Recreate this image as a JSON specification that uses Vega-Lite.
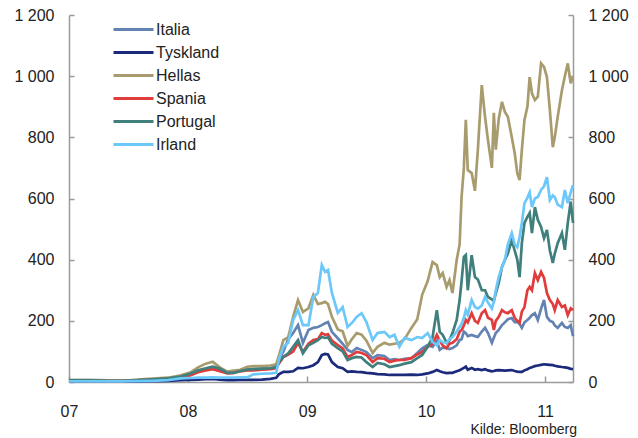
{
"$schema":"https://vega.github.io/schema/vega-lite/v6.json",
"width":504,"height":367,
"autosize":{"type":"none"},
"padding":{"left":69,"top":15,"right":65,"bottom":56},
"data":{"values":[
{"c":"Italia","d":"2007-01-01","v":6},{"c":"Italia","d":"2007-03-01","v":6},{"c":"Italia","d":"2007-05-01","v":5},{"c":"Italia","d":"2007-06-15","v":4},{"c":"Italia","d":"2007-08-01","v":6},{"c":"Italia","d":"2007-09-15","v":9},{"c":"Italia","d":"2007-11-01","v":12},{"c":"Italia","d":"2007-12-10","v":18},
{"c":"Italia","d":"2008-01-10","v":25},{"c":"Italia","d":"2008-02-01","v":35},{"c":"Italia","d":"2008-02-25","v":42},{"c":"Italia","d":"2008-03-17","v":48},{"c":"Italia","d":"2008-04-08","v":40},{"c":"Italia","d":"2008-05-01","v":30},{"c":"Italia","d":"2008-05-20","v":32},{"c":"Italia","d":"2008-06-10","v":38},{"c":"Italia","d":"2008-07-01","v":42},{"c":"Italia","d":"2008-07-20","v":42},{"c":"Italia","d":"2008-08-15","v":43},{"c":"Italia","d":"2008-09-10","v":45},{"c":"Italia","d":"2008-09-28","v":50},{"c":"Italia","d":"2008-10-06","v":70},{"c":"Italia","d":"2008-10-20","v":100},{"c":"Italia","d":"2008-11-04","v":140},{"c":"Italia","d":"2008-11-19","v":160},{"c":"Italia","d":"2008-12-04","v":186},{"c":"Italia","d":"2008-12-19","v":128},
{"c":"Italia","d":"2009-01-05","v":170},{"c":"Italia","d":"2009-01-20","v":177},{"c":"Italia","d":"2009-02-03","v":180},{"c":"Italia","d":"2009-02-15","v":186},{"c":"Italia","d":"2009-02-25","v":192},{"c":"Italia","d":"2009-03-06","v":196},{"c":"Italia","d":"2009-03-18","v":164},{"c":"Italia","d":"2009-04-05","v":143},{"c":"Italia","d":"2009-04-20","v":125},{"c":"Italia","d":"2009-05-05","v":105},{"c":"Italia","d":"2009-05-18","v":98},{"c":"Italia","d":"2009-06-02","v":111},{"c":"Italia","d":"2009-06-17","v":105},{"c":"Italia","d":"2009-07-02","v":98},{"c":"Italia","d":"2009-07-21","v":78},{"c":"Italia","d":"2009-08-05","v":88},{"c":"Italia","d":"2009-08-26","v":85},{"c":"Italia","d":"2009-09-11","v":72},{"c":"Italia","d":"2009-09-26","v":75},{"c":"Italia","d":"2009-10-11","v":72},{"c":"Italia","d":"2009-10-27","v":76},{"c":"Italia","d":"2009-11-17","v":78},{"c":"Italia","d":"2009-12-05","v":95},{"c":"Italia","d":"2009-12-20","v":110},
{"c":"Italia","d":"2010-01-06","v":121},{"c":"Italia","d":"2010-01-21","v":115},{"c":"Italia","d":"2010-02-03","v":135},{"c":"Italia","d":"2010-02-12","v":105},{"c":"Italia","d":"2010-02-21","v":112},{"c":"Italia","d":"2010-03-05","v":111},{"c":"Italia","d":"2010-03-14","v":108},{"c":"Italia","d":"2010-03-23","v":111},{"c":"Italia","d":"2010-04-05","v":120},{"c":"Italia","d":"2010-04-14","v":137},{"c":"Italia","d":"2010-04-20","v":140},{"c":"Italia","d":"2010-04-27","v":165},{"c":"Italia","d":"2010-05-03","v":160},{"c":"Italia","d":"2010-05-09","v":150},{"c":"Italia","d":"2010-05-21","v":154},{"c":"Italia","d":"2010-05-31","v":150},{"c":"Italia","d":"2010-06-09","v":147},{"c":"Italia","d":"2010-06-21","v":165},{"c":"Italia","d":"2010-07-01","v":177},{"c":"Italia","d":"2010-07-10","v":160},{"c":"Italia","d":"2010-07-22","v":128},{"c":"Italia","d":"2010-07-28","v":145},{"c":"Italia","d":"2010-08-03","v":160},{"c":"Italia","d":"2010-08-12","v":170},{"c":"Italia","d":"2010-08-22","v":186},{"c":"Italia","d":"2010-08-31","v":195},{"c":"Italia","d":"2010-09-09","v":205},{"c":"Italia","d":"2010-09-21","v":209},{"c":"Italia","d":"2010-09-30","v":196},{"c":"Italia","d":"2010-10-08","v":196},{"c":"Italia","d":"2010-10-15","v":190},{"c":"Italia","d":"2010-10-22","v":177},{"c":"Italia","d":"2010-10-30","v":195},{"c":"Italia","d":"2010-11-08","v":203},{"c":"Italia","d":"2010-11-15","v":210},{"c":"Italia","d":"2010-11-22","v":219},{"c":"Italia","d":"2010-12-01","v":225},{"c":"Italia","d":"2010-12-10","v":203},{"c":"Italia","d":"2010-12-20","v":240},{"c":"Italia","d":"2010-12-29","v":268},
{"c":"Italia","d":"2011-01-07","v":213},{"c":"Italia","d":"2011-01-16","v":200},{"c":"Italia","d":"2011-01-25","v":196},{"c":"Italia","d":"2011-01-31","v":185},{"c":"Italia","d":"2011-02-09","v":177},{"c":"Italia","d":"2011-02-22","v":193},{"c":"Italia","d":"2011-03-03","v":180},{"c":"Italia","d":"2011-03-12","v":177},{"c":"Italia","d":"2011-03-21","v":186},{"c":"Italia","d":"2011-03-28","v":150},

{"c":"Tyskland","d":"2007-01-01","v":2},{"c":"Tyskland","d":"2007-03-01","v":2},{"c":"Tyskland","d":"2007-05-01","v":2},{"c":"Tyskland","d":"2007-06-15","v":1},{"c":"Tyskland","d":"2007-08-01","v":2},{"c":"Tyskland","d":"2007-09-15","v":3},{"c":"Tyskland","d":"2007-11-01","v":4},{"c":"Tyskland","d":"2007-12-10","v":6},
{"c":"Tyskland","d":"2008-01-10","v":7},{"c":"Tyskland","d":"2008-02-01","v":8},{"c":"Tyskland","d":"2008-02-25","v":9},{"c":"Tyskland","d":"2008-03-17","v":10},{"c":"Tyskland","d":"2008-04-08","v":8},{"c":"Tyskland","d":"2008-05-01","v":6},{"c":"Tyskland","d":"2008-05-20","v":6},{"c":"Tyskland","d":"2008-06-10","v":7},{"c":"Tyskland","d":"2008-07-01","v":7},{"c":"Tyskland","d":"2008-07-20","v":7},{"c":"Tyskland","d":"2008-08-15","v":8},{"c":"Tyskland","d":"2008-09-10","v":10},{"c":"Tyskland","d":"2008-09-28","v":14},{"c":"Tyskland","d":"2008-10-06","v":25},{"c":"Tyskland","d":"2008-10-20","v":33},{"c":"Tyskland","d":"2008-11-04","v":33},{"c":"Tyskland","d":"2008-11-19","v":35},{"c":"Tyskland","d":"2008-12-04","v":46},{"c":"Tyskland","d":"2008-12-19","v":45},
{"c":"Tyskland","d":"2009-01-05","v":49},{"c":"Tyskland","d":"2009-01-20","v":55},{"c":"Tyskland","d":"2009-02-03","v":65},{"c":"Tyskland","d":"2009-02-15","v":88},{"c":"Tyskland","d":"2009-02-25","v":92},{"c":"Tyskland","d":"2009-03-06","v":90},{"c":"Tyskland","d":"2009-03-18","v":65},{"c":"Tyskland","d":"2009-04-05","v":49},{"c":"Tyskland","d":"2009-04-20","v":45},{"c":"Tyskland","d":"2009-05-05","v":33},{"c":"Tyskland","d":"2009-05-18","v":35},{"c":"Tyskland","d":"2009-06-02","v":33},{"c":"Tyskland","d":"2009-06-17","v":32},{"c":"Tyskland","d":"2009-07-02","v":30},{"c":"Tyskland","d":"2009-07-21","v":28},{"c":"Tyskland","d":"2009-08-05","v":26},{"c":"Tyskland","d":"2009-08-26","v":25},{"c":"Tyskland","d":"2009-09-11","v":23},{"c":"Tyskland","d":"2009-09-26","v":23},{"c":"Tyskland","d":"2009-10-11","v":23},{"c":"Tyskland","d":"2009-10-27","v":23},{"c":"Tyskland","d":"2009-11-17","v":24},{"c":"Tyskland","d":"2009-12-05","v":23},{"c":"Tyskland","d":"2009-12-20","v":25},
{"c":"Tyskland","d":"2010-01-06","v":28},{"c":"Tyskland","d":"2010-01-21","v":33},{"c":"Tyskland","d":"2010-02-03","v":39},{"c":"Tyskland","d":"2010-02-12","v":35},{"c":"Tyskland","d":"2010-02-21","v":32},{"c":"Tyskland","d":"2010-03-05","v":29},{"c":"Tyskland","d":"2010-03-14","v":30},{"c":"Tyskland","d":"2010-03-23","v":30},{"c":"Tyskland","d":"2010-04-05","v":35},{"c":"Tyskland","d":"2010-04-14","v":38},{"c":"Tyskland","d":"2010-04-20","v":42},{"c":"Tyskland","d":"2010-04-27","v":46},{"c":"Tyskland","d":"2010-05-03","v":50},{"c":"Tyskland","d":"2010-05-09","v":40},{"c":"Tyskland","d":"2010-05-21","v":46},{"c":"Tyskland","d":"2010-05-31","v":40},{"c":"Tyskland","d":"2010-06-09","v":42},{"c":"Tyskland","d":"2010-06-21","v":39},{"c":"Tyskland","d":"2010-07-01","v":42},{"c":"Tyskland","d":"2010-07-10","v":38},{"c":"Tyskland","d":"2010-07-22","v":35},{"c":"Tyskland","d":"2010-07-28","v":36},{"c":"Tyskland","d":"2010-08-03","v":38},{"c":"Tyskland","d":"2010-08-12","v":39},{"c":"Tyskland","d":"2010-08-22","v":38},{"c":"Tyskland","d":"2010-08-31","v":37},{"c":"Tyskland","d":"2010-09-09","v":38},{"c":"Tyskland","d":"2010-09-21","v":39},{"c":"Tyskland","d":"2010-09-30","v":36},{"c":"Tyskland","d":"2010-10-08","v":34},{"c":"Tyskland","d":"2010-10-15","v":33},{"c":"Tyskland","d":"2010-10-22","v":33},{"c":"Tyskland","d":"2010-10-30","v":38},{"c":"Tyskland","d":"2010-11-08","v":42},{"c":"Tyskland","d":"2010-11-15","v":46},{"c":"Tyskland","d":"2010-11-22","v":48},{"c":"Tyskland","d":"2010-12-01","v":52},{"c":"Tyskland","d":"2010-12-10","v":54},{"c":"Tyskland","d":"2010-12-20","v":56},{"c":"Tyskland","d":"2010-12-29","v":58},
{"c":"Tyskland","d":"2011-01-07","v":57},{"c":"Tyskland","d":"2011-01-16","v":56},{"c":"Tyskland","d":"2011-01-25","v":55},{"c":"Tyskland","d":"2011-01-31","v":53},{"c":"Tyskland","d":"2011-02-09","v":51},{"c":"Tyskland","d":"2011-02-22","v":49},{"c":"Tyskland","d":"2011-03-03","v":48},{"c":"Tyskland","d":"2011-03-12","v":46},{"c":"Tyskland","d":"2011-03-21","v":43},{"c":"Tyskland","d":"2011-03-28","v":42},

{"c":"Hellas","d":"2007-01-01","v":6},{"c":"Hellas","d":"2007-03-01","v":6},{"c":"Hellas","d":"2007-05-01","v":5},{"c":"Hellas","d":"2007-06-15","v":4},{"c":"Hellas","d":"2007-08-01","v":8},{"c":"Hellas","d":"2007-09-15","v":11},{"c":"Hellas","d":"2007-11-01","v":14},{"c":"Hellas","d":"2007-12-10","v":22},
{"c":"Hellas","d":"2008-01-10","v":32},{"c":"Hellas","d":"2008-02-01","v":48},{"c":"Hellas","d":"2008-02-25","v":60},{"c":"Hellas","d":"2008-03-17","v":66},{"c":"Hellas","d":"2008-04-08","v":48},{"c":"Hellas","d":"2008-05-01","v":34},{"c":"Hellas","d":"2008-05-20","v":37},{"c":"Hellas","d":"2008-06-10","v":40},{"c":"Hellas","d":"2008-07-01","v":50},{"c":"Hellas","d":"2008-07-20","v":52},{"c":"Hellas","d":"2008-08-15","v":52},{"c":"Hellas","d":"2008-09-10","v":54},{"c":"Hellas","d":"2008-09-28","v":58},{"c":"Hellas","d":"2008-10-06","v":85},{"c":"Hellas","d":"2008-10-20","v":137},{"c":"Hellas","d":"2008-11-04","v":147},{"c":"Hellas","d":"2008-11-19","v":213},{"c":"Hellas","d":"2008-12-04","v":268},{"c":"Hellas","d":"2008-12-19","v":229},
{"c":"Hellas","d":"2009-01-05","v":241},{"c":"Hellas","d":"2009-01-20","v":285},{"c":"Hellas","d":"2009-02-03","v":255},{"c":"Hellas","d":"2009-02-15","v":258},{"c":"Hellas","d":"2009-02-25","v":262},{"c":"Hellas","d":"2009-03-06","v":255},{"c":"Hellas","d":"2009-03-18","v":213},{"c":"Hellas","d":"2009-04-05","v":172},{"c":"Hellas","d":"2009-04-20","v":166},{"c":"Hellas","d":"2009-05-05","v":118},{"c":"Hellas","d":"2009-05-18","v":140},{"c":"Hellas","d":"2009-06-02","v":160},{"c":"Hellas","d":"2009-06-17","v":155},{"c":"Hellas","d":"2009-07-02","v":135},{"c":"Hellas","d":"2009-07-21","v":95},{"c":"Hellas","d":"2009-08-05","v":115},{"c":"Hellas","d":"2009-08-26","v":128},{"c":"Hellas","d":"2009-09-11","v":122},{"c":"Hellas","d":"2009-09-26","v":125},{"c":"Hellas","d":"2009-10-11","v":128},{"c":"Hellas","d":"2009-10-27","v":140},{"c":"Hellas","d":"2009-11-17","v":177},{"c":"Hellas","d":"2009-12-05","v":205},{"c":"Hellas","d":"2009-12-20","v":285},
{"c":"Hellas","d":"2010-01-06","v":330},{"c":"Hellas","d":"2010-01-21","v":392},{"c":"Hellas","d":"2010-02-03","v":382},{"c":"Hellas","d":"2010-02-12","v":343},{"c":"Hellas","d":"2010-02-21","v":356},{"c":"Hellas","d":"2010-03-05","v":311},{"c":"Hellas","d":"2010-03-14","v":333},{"c":"Hellas","d":"2010-03-23","v":291},{"c":"Hellas","d":"2010-04-05","v":399},{"c":"Hellas","d":"2010-04-14","v":450},{"c":"Hellas","d":"2010-04-20","v":605},{"c":"Hellas","d":"2010-04-27","v":700},{"c":"Hellas","d":"2010-05-03","v":857},{"c":"Hellas","d":"2010-05-09","v":693},{"c":"Hellas","d":"2010-05-21","v":683},{"c":"Hellas","d":"2010-05-31","v":625},{"c":"Hellas","d":"2010-06-09","v":760},{"c":"Hellas","d":"2010-06-21","v":971},{"c":"Hellas","d":"2010-07-01","v":867},{"c":"Hellas","d":"2010-07-10","v":791},{"c":"Hellas","d":"2010-07-22","v":700},{"c":"Hellas","d":"2010-07-28","v":880},{"c":"Hellas","d":"2010-08-03","v":760},{"c":"Hellas","d":"2010-08-12","v":860},{"c":"Hellas","d":"2010-08-22","v":916},{"c":"Hellas","d":"2010-08-31","v":883},{"c":"Hellas","d":"2010-09-09","v":867},{"c":"Hellas","d":"2010-09-21","v":801},{"c":"Hellas","d":"2010-09-30","v":749},{"c":"Hellas","d":"2010-10-08","v":683},{"c":"Hellas","d":"2010-10-15","v":660},{"c":"Hellas","d":"2010-10-22","v":759},{"c":"Hellas","d":"2010-10-30","v":857},{"c":"Hellas","d":"2010-11-08","v":900},{"c":"Hellas","d":"2010-11-15","v":997},{"c":"Hellas","d":"2010-11-22","v":944},{"c":"Hellas","d":"2010-12-01","v":922},{"c":"Hellas","d":"2010-12-10","v":933},{"c":"Hellas","d":"2010-12-20","v":1042},{"c":"Hellas","d":"2010-12-29","v":1030},
{"c":"Hellas","d":"2011-01-07","v":997},{"c":"Hellas","d":"2011-01-16","v":889},{"c":"Hellas","d":"2011-01-25","v":768},{"c":"Hellas","d":"2011-01-31","v":800},{"c":"Hellas","d":"2011-02-09","v":867},{"c":"Hellas","d":"2011-02-22","v":954},{"c":"Hellas","d":"2011-03-03","v":1000},{"c":"Hellas","d":"2011-03-12","v":1042},{"c":"Hellas","d":"2011-03-21","v":977},{"c":"Hellas","d":"2011-03-28","v":997},

{"c":"Spania","d":"2007-01-01","v":4},{"c":"Spania","d":"2007-03-01","v":4},{"c":"Spania","d":"2007-05-01","v":3},{"c":"Spania","d":"2007-06-15","v":3},{"c":"Spania","d":"2007-08-01","v":5},{"c":"Spania","d":"2007-09-15","v":8},{"c":"Spania","d":"2007-11-01","v":10},{"c":"Spania","d":"2007-12-10","v":15},
{"c":"Spania","d":"2008-01-10","v":22},{"c":"Spania","d":"2008-02-01","v":32},{"c":"Spania","d":"2008-02-25","v":38},{"c":"Spania","d":"2008-03-17","v":42},{"c":"Spania","d":"2008-04-08","v":35},{"c":"Spania","d":"2008-05-01","v":28},{"c":"Spania","d":"2008-05-20","v":30},{"c":"Spania","d":"2008-06-10","v":35},{"c":"Spania","d":"2008-07-01","v":38},{"c":"Spania","d":"2008-07-20","v":38},{"c":"Spania","d":"2008-08-15","v":40},{"c":"Spania","d":"2008-09-10","v":42},{"c":"Spania","d":"2008-09-28","v":45},{"c":"Spania","d":"2008-10-06","v":60},{"c":"Spania","d":"2008-10-20","v":82},{"c":"Spania","d":"2008-11-04","v":90},{"c":"Spania","d":"2008-11-19","v":100},{"c":"Spania","d":"2008-12-04","v":128},{"c":"Spania","d":"2008-12-19","v":98},
{"c":"Spania","d":"2009-01-05","v":125},{"c":"Spania","d":"2009-01-20","v":137},{"c":"Spania","d":"2009-02-03","v":140},{"c":"Spania","d":"2009-02-15","v":160},{"c":"Spania","d":"2009-02-25","v":154},{"c":"Spania","d":"2009-03-06","v":156},{"c":"Spania","d":"2009-03-18","v":135},{"c":"Spania","d":"2009-04-05","v":121},{"c":"Spania","d":"2009-04-20","v":110},{"c":"Spania","d":"2009-05-05","v":82},{"c":"Spania","d":"2009-05-18","v":88},{"c":"Spania","d":"2009-06-02","v":98},{"c":"Spania","d":"2009-06-17","v":95},{"c":"Spania","d":"2009-07-02","v":88},{"c":"Spania","d":"2009-07-21","v":65},{"c":"Spania","d":"2009-08-05","v":78},{"c":"Spania","d":"2009-08-26","v":76},{"c":"Spania","d":"2009-09-11","v":65},{"c":"Spania","d":"2009-09-26","v":70},{"c":"Spania","d":"2009-10-11","v":72},{"c":"Spania","d":"2009-10-27","v":72},{"c":"Spania","d":"2009-11-17","v":78},{"c":"Spania","d":"2009-12-05","v":90},{"c":"Spania","d":"2009-12-20","v":98},
{"c":"Spania","d":"2010-01-06","v":115},{"c":"Spania","d":"2010-01-21","v":125},{"c":"Spania","d":"2010-02-03","v":154},{"c":"Spania","d":"2010-02-12","v":135},{"c":"Spania","d":"2010-02-21","v":120},{"c":"Spania","d":"2010-03-05","v":111},{"c":"Spania","d":"2010-03-14","v":125},{"c":"Spania","d":"2010-03-23","v":128},{"c":"Spania","d":"2010-04-05","v":140},{"c":"Spania","d":"2010-04-14","v":164},{"c":"Spania","d":"2010-04-20","v":170},{"c":"Spania","d":"2010-04-27","v":185},{"c":"Spania","d":"2010-05-03","v":203},{"c":"Spania","d":"2010-05-09","v":195},{"c":"Spania","d":"2010-05-21","v":225},{"c":"Spania","d":"2010-05-31","v":200},{"c":"Spania","d":"2010-06-09","v":193},{"c":"Spania","d":"2010-06-21","v":225},{"c":"Spania","d":"2010-07-01","v":235},{"c":"Spania","d":"2010-07-10","v":210},{"c":"Spania","d":"2010-07-22","v":203},{"c":"Spania","d":"2010-07-28","v":170},{"c":"Spania","d":"2010-08-03","v":200},{"c":"Spania","d":"2010-08-12","v":213},{"c":"Spania","d":"2010-08-22","v":235},{"c":"Spania","d":"2010-08-31","v":228},{"c":"Spania","d":"2010-09-09","v":225},{"c":"Spania","d":"2010-09-21","v":235},{"c":"Spania","d":"2010-09-30","v":210},{"c":"Spania","d":"2010-10-08","v":200},{"c":"Spania","d":"2010-10-15","v":193},{"c":"Spania","d":"2010-10-22","v":230},{"c":"Spania","d":"2010-10-30","v":245},{"c":"Spania","d":"2010-11-08","v":300},{"c":"Spania","d":"2010-11-15","v":311},{"c":"Spania","d":"2010-11-22","v":300},{"c":"Spania","d":"2010-12-01","v":356},{"c":"Spania","d":"2010-12-10","v":333},{"c":"Spania","d":"2010-12-20","v":360},{"c":"Spania","d":"2010-12-29","v":340},
{"c":"Spania","d":"2011-01-07","v":291},{"c":"Spania","d":"2011-01-16","v":268},{"c":"Spania","d":"2011-01-25","v":255},{"c":"Spania","d":"2011-01-31","v":235},{"c":"Spania","d":"2011-02-09","v":268},{"c":"Spania","d":"2011-02-22","v":245},{"c":"Spania","d":"2011-03-03","v":250},{"c":"Spania","d":"2011-03-12","v":219},{"c":"Spania","d":"2011-03-21","v":241},{"c":"Spania","d":"2011-03-28","v":235},

{"c":"Portugal","d":"2007-01-01","v":5},{"c":"Portugal","d":"2007-03-01","v":5},{"c":"Portugal","d":"2007-05-01","v":4},{"c":"Portugal","d":"2007-06-15","v":4},{"c":"Portugal","d":"2007-08-01","v":6},{"c":"Portugal","d":"2007-09-15","v":9},{"c":"Portugal","d":"2007-11-01","v":12},{"c":"Portugal","d":"2007-12-10","v":18},
{"c":"Portugal","d":"2008-01-10","v":28},{"c":"Portugal","d":"2008-02-01","v":38},{"c":"Portugal","d":"2008-02-25","v":45},{"c":"Portugal","d":"2008-03-17","v":50},{"c":"Portugal","d":"2008-04-08","v":44},{"c":"Portugal","d":"2008-05-01","v":30},{"c":"Portugal","d":"2008-05-20","v":30},{"c":"Portugal","d":"2008-06-10","v":36},{"c":"Portugal","d":"2008-07-01","v":40},{"c":"Portugal","d":"2008-07-20","v":42},{"c":"Portugal","d":"2008-08-15","v":44},{"c":"Portugal","d":"2008-09-10","v":45},{"c":"Portugal","d":"2008-09-28","v":48},{"c":"Portugal","d":"2008-10-06","v":65},{"c":"Portugal","d":"2008-10-20","v":82},{"c":"Portugal","d":"2008-11-04","v":94},{"c":"Portugal","d":"2008-11-19","v":115},{"c":"Portugal","d":"2008-12-04","v":137},{"c":"Portugal","d":"2008-12-19","v":94},
{"c":"Portugal","d":"2009-01-05","v":120},{"c":"Portugal","d":"2009-01-20","v":128},{"c":"Portugal","d":"2009-02-03","v":137},{"c":"Portugal","d":"2009-02-15","v":147},{"c":"Portugal","d":"2009-02-25","v":144},{"c":"Portugal","d":"2009-03-06","v":146},{"c":"Portugal","d":"2009-03-18","v":125},{"c":"Portugal","d":"2009-04-05","v":111},{"c":"Portugal","d":"2009-04-20","v":100},{"c":"Portugal","d":"2009-05-05","v":72},{"c":"Portugal","d":"2009-05-18","v":78},{"c":"Portugal","d":"2009-06-02","v":82},{"c":"Portugal","d":"2009-06-17","v":80},{"c":"Portugal","d":"2009-07-02","v":65},{"c":"Portugal","d":"2009-07-21","v":49},{"c":"Portugal","d":"2009-08-05","v":62},{"c":"Portugal","d":"2009-08-26","v":58},{"c":"Portugal","d":"2009-09-11","v":49},{"c":"Portugal","d":"2009-09-26","v":52},{"c":"Portugal","d":"2009-10-11","v":55},{"c":"Portugal","d":"2009-10-27","v":60},{"c":"Portugal","d":"2009-11-17","v":65},{"c":"Portugal","d":"2009-12-05","v":78},{"c":"Portugal","d":"2009-12-20","v":88},
{"c":"Portugal","d":"2010-01-06","v":115},{"c":"Portugal","d":"2010-01-21","v":147},{"c":"Portugal","d":"2010-02-03","v":235},{"c":"Portugal","d":"2010-02-12","v":164},{"c":"Portugal","d":"2010-02-21","v":154},{"c":"Portugal","d":"2010-03-05","v":128},{"c":"Portugal","d":"2010-03-14","v":137},{"c":"Portugal","d":"2010-03-23","v":160},{"c":"Portugal","d":"2010-04-05","v":203},{"c":"Portugal","d":"2010-04-14","v":268},{"c":"Portugal","d":"2010-04-20","v":330},{"c":"Portugal","d":"2010-04-27","v":409},{"c":"Portugal","d":"2010-05-03","v":415},{"c":"Portugal","d":"2010-05-09","v":300},{"c":"Portugal","d":"2010-05-21","v":415},{"c":"Portugal","d":"2010-05-31","v":343},{"c":"Portugal","d":"2010-06-09","v":335},{"c":"Portugal","d":"2010-06-21","v":300},{"c":"Portugal","d":"2010-07-01","v":300},{"c":"Portugal","d":"2010-07-10","v":278},{"c":"Portugal","d":"2010-07-22","v":270},{"c":"Portugal","d":"2010-07-28","v":265},{"c":"Portugal","d":"2010-08-03","v":290},{"c":"Portugal","d":"2010-08-12","v":324},{"c":"Portugal","d":"2010-08-22","v":376},{"c":"Portugal","d":"2010-08-31","v":399},{"c":"Portugal","d":"2010-09-09","v":420},{"c":"Portugal","d":"2010-09-21","v":464},{"c":"Portugal","d":"2010-09-30","v":430},{"c":"Portugal","d":"2010-10-08","v":400},{"c":"Portugal","d":"2010-10-15","v":343},{"c":"Portugal","d":"2010-10-22","v":454},{"c":"Portugal","d":"2010-10-30","v":520},{"c":"Portugal","d":"2010-11-08","v":540},{"c":"Portugal","d":"2010-11-15","v":553},{"c":"Portugal","d":"2010-11-22","v":487},{"c":"Portugal","d":"2010-12-01","v":572},{"c":"Portugal","d":"2010-12-10","v":530},{"c":"Portugal","d":"2010-12-20","v":507},{"c":"Portugal","d":"2010-12-29","v":470},
{"c":"Portugal","d":"2011-01-07","v":497},{"c":"Portugal","d":"2011-01-16","v":430},{"c":"Portugal","d":"2011-01-25","v":389},{"c":"Portugal","d":"2011-01-31","v":420},{"c":"Portugal","d":"2011-02-09","v":454},{"c":"Portugal","d":"2011-02-22","v":487},{"c":"Portugal","d":"2011-03-03","v":432},{"c":"Portugal","d":"2011-03-12","v":520},{"c":"Portugal","d":"2011-03-21","v":590},{"c":"Portugal","d":"2011-03-28","v":520},

{"c":"Irland","d":"2007-01-01","v":2},{"c":"Irland","d":"2007-03-01","v":2},{"c":"Irland","d":"2007-05-01","v":2},{"c":"Irland","d":"2007-06-15","v":2},{"c":"Irland","d":"2007-08-01","v":3},{"c":"Irland","d":"2007-09-15","v":4},{"c":"Irland","d":"2007-11-01","v":6},{"c":"Irland","d":"2007-12-10","v":12},
{"c":"Irland","d":"2008-01-10","v":13},{"c":"Irland","d":"2008-02-01","v":14},{"c":"Irland","d":"2008-02-25","v":14},{"c":"Irland","d":"2008-03-17","v":15},{"c":"Irland","d":"2008-04-08","v":14},{"c":"Irland","d":"2008-05-01","v":14},{"c":"Irland","d":"2008-05-20","v":14},{"c":"Irland","d":"2008-06-10","v":15},{"c":"Irland","d":"2008-07-01","v":15},{"c":"Irland","d":"2008-07-20","v":25},{"c":"Irland","d":"2008-08-15","v":27},{"c":"Irland","d":"2008-09-10","v":28},{"c":"Irland","d":"2008-09-28","v":30},{"c":"Irland","d":"2008-10-06","v":72},{"c":"Irland","d":"2008-10-20","v":115},{"c":"Irland","d":"2008-11-04","v":128},{"c":"Irland","d":"2008-11-19","v":203},{"c":"Irland","d":"2008-12-04","v":235},{"c":"Irland","d":"2008-12-19","v":186},
{"c":"Irland","d":"2009-01-05","v":186},{"c":"Irland","d":"2009-01-20","v":278},{"c":"Irland","d":"2009-02-03","v":291},{"c":"Irland","d":"2009-02-15","v":383},{"c":"Irland","d":"2009-02-25","v":360},{"c":"Irland","d":"2009-03-06","v":366},{"c":"Irland","d":"2009-03-18","v":291},{"c":"Irland","d":"2009-04-05","v":226},{"c":"Irland","d":"2009-04-20","v":245},{"c":"Irland","d":"2009-05-05","v":180},{"c":"Irland","d":"2009-05-18","v":193},{"c":"Irland","d":"2009-06-02","v":213},{"c":"Irland","d":"2009-06-17","v":225},{"c":"Irland","d":"2009-07-02","v":196},{"c":"Irland","d":"2009-07-21","v":137},{"c":"Irland","d":"2009-08-05","v":160},{"c":"Irland","d":"2009-08-26","v":164},{"c":"Irland","d":"2009-09-11","v":147},{"c":"Irland","d":"2009-09-26","v":154},{"c":"Irland","d":"2009-10-11","v":115},{"c":"Irland","d":"2009-10-27","v":144},{"c":"Irland","d":"2009-11-17","v":137},{"c":"Irland","d":"2009-12-05","v":147},{"c":"Irland","d":"2009-12-20","v":144},
{"c":"Irland","d":"2010-01-06","v":160},{"c":"Irland","d":"2010-01-21","v":131},{"c":"Irland","d":"2010-02-03","v":120},{"c":"Irland","d":"2010-02-12","v":137},{"c":"Irland","d":"2010-02-21","v":130},{"c":"Irland","d":"2010-03-05","v":128},{"c":"Irland","d":"2010-03-14","v":140},{"c":"Irland","d":"2010-03-23","v":147},{"c":"Irland","d":"2010-04-05","v":165},{"c":"Irland","d":"2010-04-14","v":180},{"c":"Irland","d":"2010-04-20","v":190},{"c":"Irland","d":"2010-04-27","v":210},{"c":"Irland","d":"2010-05-03","v":235},{"c":"Irland","d":"2010-05-09","v":220},{"c":"Irland","d":"2010-05-21","v":268},{"c":"Irland","d":"2010-05-31","v":245},{"c":"Irland","d":"2010-06-09","v":240},{"c":"Irland","d":"2010-06-21","v":250},{"c":"Irland","d":"2010-07-01","v":278},{"c":"Irland","d":"2010-07-10","v":260},{"c":"Irland","d":"2010-07-22","v":240},{"c":"Irland","d":"2010-07-28","v":262},{"c":"Irland","d":"2010-08-03","v":300},{"c":"Irland","d":"2010-08-12","v":343},{"c":"Irland","d":"2010-08-22","v":376},{"c":"Irland","d":"2010-08-31","v":400},{"c":"Irland","d":"2010-09-09","v":450},{"c":"Irland","d":"2010-09-21","v":487},{"c":"Irland","d":"2010-09-30","v":450},{"c":"Irland","d":"2010-10-08","v":441},{"c":"Irland","d":"2010-10-15","v":474},{"c":"Irland","d":"2010-10-22","v":520},{"c":"Irland","d":"2010-10-30","v":585},{"c":"Irland","d":"2010-11-08","v":602},{"c":"Irland","d":"2010-11-15","v":620},{"c":"Irland","d":"2010-11-22","v":572},{"c":"Irland","d":"2010-12-01","v":600},{"c":"Irland","d":"2010-12-10","v":605},{"c":"Irland","d":"2010-12-20","v":628},{"c":"Irland","d":"2010-12-29","v":640},
{"c":"Irland","d":"2011-01-07","v":670},{"c":"Irland","d":"2011-01-16","v":595},{"c":"Irland","d":"2011-01-25","v":610},{"c":"Irland","d":"2011-01-31","v":605},{"c":"Irland","d":"2011-02-09","v":580},{"c":"Irland","d":"2011-02-22","v":572},{"c":"Irland","d":"2011-03-03","v":628},{"c":"Irland","d":"2011-03-12","v":585},{"c":"Irland","d":"2011-03-21","v":620},{"c":"Irland","d":"2011-03-28","v":644}
]},
"title":{"text":"Kilde: Bloomberg","orient":"bottom","anchor":"end","frame":"group","fontSize":14,"fontWeight":"normal","color":"#222222","font":"Liberation Sans","offset":4,"dx":4},
"encoding":{
  "x":{"field":"d","type":"temporal","title":null,
    "scale":{"type":"utc","domain":[{"year":2007,"month":1,"date":1,"utc":true},{"year":2011,"month":3,"date":28,"utc":true}]},
    "axis":{"values":[{"year":2007,"month":1,"date":1,"utc":true},{"year":2008,"month":1,"date":1,"utc":true},{"year":2009,"month":1,"date":1,"utc":true},{"year":2010,"month":1,"date":1,"utc":true},{"year":2011,"month":1,"date":1,"utc":true}],
      "format":"%y","tickSize":-6,"labelPadding":27,"labelFlush":false}}
},
"layer":[
  {"mark":{"type":"line","strokeWidth":2.7},
   "encoding":{
     "y":{"field":"v","type":"quantitative","title":null,"scale":{"domain":[0,1200],"nice":false},
       "axis":{"orient":"left","values":[0,200,400,600,800,1000,1200],"tickSize":-5,"labelPadding":20,"labelExpr":"replace(format(datum.value, ','), ',', ' ')"}},
     "color":{"field":"c","type":"nominal","sort":null,
       "scale":{"domain":["Italia","Tyskland","Hellas","Spania","Portugal","Irland"],"range":["#6383b3","#1b2a7b","#a89c6e","#e03c3c","#3f7f7c","#6cc8f8"]},
       "legend":{"orient":"none","legendX":53,"legendY":3,"title":null,"symbolType":"M-2,0H2","symbolSize":400,"symbolStrokeWidth":3,"labelFontSize":16,"labelColor":"#222222","labelFont":"Liberation Sans","labelOffset":11,"padding":0,"rowPadding":3}}
   }},
  {"mark":{"type":"line","opacity":0},
   "encoding":{
     "y":{"field":"v","type":"quantitative","title":null,"scale":{"domain":[0,1200],"nice":false},
       "axis":{"orient":"right","values":[0,200,400,600,800,1000,1200],"tickSize":-5,"labelPadding":20,"labelExpr":"replace(format(datum.value, ','), ',', ' ')"}},
     "detail":{"field":"c"}
   }}
],
"resolve":{"scale":{"y":"independent"}},
"config":{
  "view":{"stroke":null},
  "font":"Liberation Sans",
  "axis":{"labelFont":"Liberation Sans","labelFontSize":16,"labelColor":"#222222","domainColor":"#9a9a9a","domainWidth":1.5,"tickColor":"#9a9a9a","tickWidth":1.5,"grid":false}
}
}
